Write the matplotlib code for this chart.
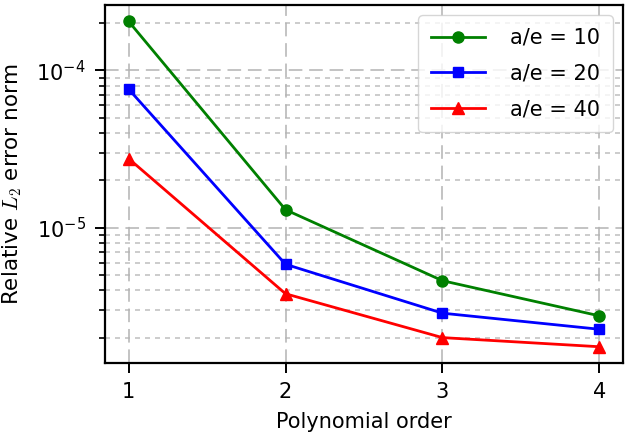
import matplotlib
matplotlib.use("Agg")
import matplotlib.pyplot as plt

orders = [1, 2, 3, 4]
err_ae10 = [2.05e-4, 1.30e-5, 4.6e-6, 2.75e-6]
err_ae20 = [7.6e-5, 5.85e-6, 2.86e-6, 2.26e-6]
err_ae40 = [2.75e-5, 3.8e-6, 2.0e-6, 1.75e-6]
labels = ["a/e = 10", "a/e = 20", "a/e = 40"]
xlabel = "Polynomial order"
ylabel = r"Relative $L_2$ error norm"

plt.rcParams["font.family"] = ["DejaVu Sans"]
plt.rcParams["mathtext.fontset"] = "cm"
plt.rcParams["font.size"] = 15

fig = plt.figure(figsize=(6.27, 4.48), dpi=100)
ax = fig.add_axes([0.1675, 0.1897, 0.9936 - 0.1675, 0.9888 - 0.1897])

ax.plot(orders, err_ae10, color="green", marker="o", lw=2, ms=8, label=labels[0])
ax.plot(orders, err_ae20, color="blue", marker="s", lw=2, ms=7.5, label=labels[1])
ax.plot(orders, err_ae40, color="red", marker="^", lw=2, ms=8.5, label=labels[2])

ax.set_yscale("log")
ax.set_xticks(orders)
ax.set_xlabel(xlabel, fontsize=15, labelpad=7)
ax.set_ylabel(ylabel, fontsize=15.5, labelpad=8.5)

ax.grid(True, which="major", ls=(0, (7, 3.5)), lw=1.4, color="#b4b4b4", alpha=0.8)
ax.grid(True, which="minor", axis="y", ls=(0, (3, 3)), lw=1.2, color="#b4b4b4", alpha=0.8)

for s in ax.spines.values():
    s.set_linewidth(1.6)
ax.tick_params(which="major", length=7, width=1.4, pad=7, labelsize=15)
ax.tick_params(which="minor", length=4.5, width=1.2)

ax.legend(loc="upper right", fontsize=15, framealpha=0.8, handlelength=2.6,
          labelspacing=0.75, borderpad=0.6, handletextpad=1.2)

fig.savefig("out.png", dpi=100)
